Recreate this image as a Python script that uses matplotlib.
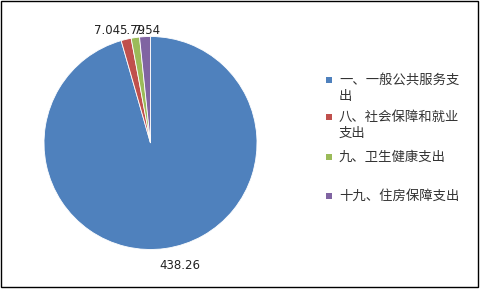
import matplotlib
matplotlib.use("Agg")
import matplotlib.pyplot as plt
from matplotlib.patches import Rectangle

plt.rcParams['font.family'] = ['Noto Sans CJK SC', 'DejaVu Sans']

categories = ["一、一般公共服务支\n出", "八、社会保障和就业\n支出", "九、卫生健康支出", "十九、住房保障支出"]
values = [438.26, 7.04, 5.79, 7.54]
value_labels = ["438.26", "7.04", "5.79", "7.54"]
colors = ["#4F81BD", "#C0504D", "#9BBB59", "#8064A2"]

W, H = 481, 289
fig = plt.figure(figsize=(W / 100, H / 100), dpi=100)

# pie area: centre ~ (150.5, 143) px, radius ~106.5 px
r_px = 106.5
cx, cy = 150.5, 143
ax = fig.add_axes([(cx - r_px) / W, (H - cy - r_px) / H, 2 * r_px / W, 2 * r_px / H])
wedges, _ = ax.pie(values, colors=colors, startangle=90, counterclock=False,
                   wedgeprops=dict(edgecolor="white", linewidth=0.6))
ax.set_xlim(-1, 1)
ax.set_ylim(-1, 1)
ax.set_aspect("auto")
ax.axis("off")

# data labels (outside end, the small ones pushed together as in the original)
label_pos = [(0.28, -1.15), (-0.41, 1.06), (-0.17, 1.06), (-0.035, 1.06)]
for (x, y), txt in zip(label_pos, value_labels):
    ax.text(x, y, txt, ha="center", va="center", fontsize=8.5,
            family="DejaVu Sans", color="#222222", clip_on=False)

# legend drawn by hand so the marker sits on the first text line
leg_y = [80, 117, 157, 196]
for yy, lab, col in zip(leg_y, categories, colors):
    fig.add_artist(Rectangle((326 / W, 1 - (yy + 3) / H), 6 / W, 6 / H,
                             transform=fig.transFigure, facecolor=col, edgecolor="none"))
    fig.text(339 / W, 1 - (yy - 7.5) / H, lab, ha="left", va="top", fontsize=9.6,
             color="#333333", linespacing=1.2)

# chart frame
fig.add_artist(Rectangle((0.5 / W, 2.5 / H), 477.5 / W, 285.5 / H, transform=fig.transFigure,
                         fill=False, edgecolor="black", linewidth=1.0))

fig.savefig("out.png", dpi=100)
